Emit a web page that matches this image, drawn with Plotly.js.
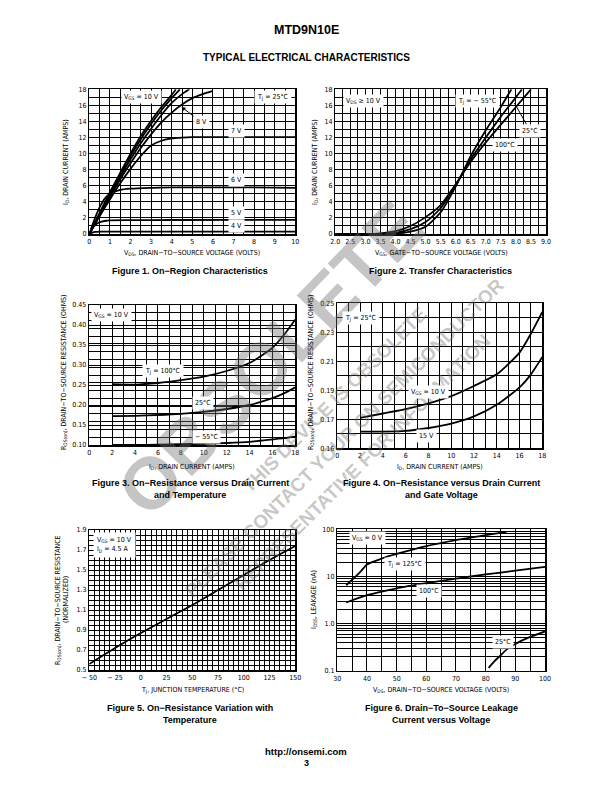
<!DOCTYPE html>
<html><head><meta charset="utf-8">
<script src="https://cdn.plot.ly/plotly-3.0.1.min.js"></script>
<style>html,body{margin:0;padding:0;background:#fff}#chart{width:612px;height:792px}</style>
</head><body><div id="chart"></div>
<script>
// ---------- Figure 1: On-Region Characteristics (VDS vs ID) ----------
const f1_vgs10_x = [0,0.5,1,1.5,2,2.5,3,3.5,4,4.2];
const f1_vgs10_y = [0,2.6,5.2,7.6,10,12.2,14.1,15.8,17.3,18];
const f1_vgs9_x  = [0,0.5,1,1.5,2,2.5,3,3.5,4,4.4];
const f1_vgs9_y  = [0,2.5,5.0,7.4,9.7,11.8,13.7,15.4,16.9,18];
const f1_vgsC_x  = [0,0.5,1,1.5,2,2.5,3,3.5,4,4.5,4.85];
const f1_vgsC_y  = [0,2.4,4.8,7.1,9.3,11.3,13.1,14.8,16.3,17.4,18];
const f1_vgs8_x  = [0,0.5,1,1.5,2,2.5,3,3.5,4,4.5,5,5.5,6];
const f1_vgs8_y  = [0,2.3,4.6,6.8,8.8,10.7,12.4,13.9,15.1,16.1,16.9,17.4,17.8];
const f1_vgs7_x  = [0,0.5,1,1.5,2,2.5,3,3.5,4,4.5,5,6,8,10];
const f1_vgs7_y  = [0,2.2,4.3,6.3,8.1,9.7,11.0,11.6,11.9,12.0,12.05,12.05,12.05,12.05];
const f1_vgs6_x  = [0,0.25,0.5,0.75,1,1.5,2,3,4,6,8,10];
const f1_vgs6_y  = [0,1.8,3.3,4.4,5.0,5.5,5.65,5.75,5.8,5.8,5.8,5.75];
const f1_vgs5_x  = [0,0.2,0.4,0.6,0.8,1,2,4,10];
const f1_vgs5_y  = [0,0.9,1.35,1.55,1.65,1.7,1.72,1.74,1.75];
const f1_vgs4_x  = [0,0.15,0.3,0.5,1,10];
const f1_vgs4_y  = [0,0.18,0.26,0.3,0.3,0.3];
const f1_xticks = [0,1,2,3,4,5,6,7,8,9,10];
const f1_yticks = [0,2,4,6,8,10,12,14,16,18];

// ---------- Figure 2: Transfer Characteristics (VGS vs ID) ----------
const f2_m55_x = [2,3.5,4.0,4.5,5.0,5.5,6.0,6.5,7.0,7.5,7.85];
const f2_m55_y = [0,0,0.05,0.3,0.9,2.7,5.9,9.7,12.9,15.8,18];
const f2_25_x  = [2,3.5,4.0,4.5,5.0,5.5,6.0,6.5,7.0,7.5,8.0,8.2];
const f2_25_y  = [0,0.02,0.15,0.6,1.5,3.2,6.1,9.3,12.0,14.6,17.0,18];
const f2_100_x = [2,3.3,4.0,4.5,5.0,5.5,6.0,6.5,7.0,7.5,8.0,8.5];
const f2_100_y = [0,0.02,0.35,1.0,2.1,3.6,6.2,9.0,11.4,13.6,15.8,18];
const f2_xticks = [2.0,2.5,3.0,3.5,4.0,4.5,5.0,5.5,6.0,6.5,7.0,7.5,8.0,8.5,9.0];
const f2_yticks = [0,2,4,6,8,10,12,14,16,18];

// ---------- Figure 3: RDS(on) vs ID and temperature ----------
const f3_id     = [2,4,6,8,10,12,14,16,17,18];
const f3_r100   = [0.252,0.251,0.255,0.262,0.271,0.285,0.305,0.343,0.375,0.414];
const f3_r25    = [0.172,0.173,0.175,0.178,0.183,0.190,0.200,0.217,0.229,0.244];
const f3_rm55   = [0.100,0.100,0.101,0.102,0.103,0.105,0.108,0.114,0.117,0.121];
const f3_xticks = [0,2,4,6,8,10,12,14,16,18];
const f3_yticks = [0.10,0.15,0.20,0.25,0.30,0.35,0.40,0.45];

// ---------- Figure 4: RDS(on) vs ID and gate voltage ----------
const f4_id     = [2,4,6,8,10,12,14,16,17,18];
const f4_r10    = [0.171,0.174,0.177,0.181,0.186,0.193,0.201,0.216,0.229,0.244];
const f4_r15    = [0.1615,0.1615,0.162,0.164,0.167,0.172,0.180,0.192,0.201,0.213];
const f4_xticks = [0,2,4,6,8,10,12,14,16,18];
const f4_yticks = [0.15,0.17,0.19,0.21,0.23,0.25];
const f4_ylabels = ['0.16','0.17','0.19','0.21','0.23','0.25'];

// ---------- Figure 5: Normalized RDS(on) vs TJ ----------
const f5_tj   = [-50,-25,0,25,50,75,100,125,150];
const f5_rn   = [0.56,0.72,0.87,1.01,1.15,1.30,1.45,1.60,1.74];
const f5_xticks  = [-50,-25,0,25,50,75,100,125,150];
const f5_xlabels = ['\u2212 50','\u2212 25','0','25','50','75','100','125','150'];
const f5_yticks  = [0.5,0.7,0.9,1.1,1.3,1.5,1.7,1.9];

// ---------- Figure 6: IDSS leakage vs VDS ----------
const f6_125_x = [33,35,38,40,45,50,60,70,80,87];
const f6_125_y = [6.5,8.5,13,18,24,30,44,59,75,88];
const f6_100_x = [33,40,50,60,70,80,90,100];
const f6_100_y = [2.8,4.0,5.6,7.2,9.0,11,13.3,16];
const f6_25_x  = [81,83,85,87,90,95,100];
const f6_25_y  = [0.115,0.16,0.21,0.28,0.37,0.52,0.68];
const f6_xticks = [30,40,50,60,70,80,90,100];
const f6_decades = [0.1,1.0,10,100];
const f6_decadeLabels = ['0.1','1.0','10','100'];

// ---------- helpers ----------
const W = 612, H = 792;
const NARROW = '"Liberation Sans Narrow","Arial Narrow","DejaVu Sans Condensed","Liberation Sans",sans-serif';
const SANS = '"Liberation Sans",Arial,Helvetica,sans-serif';
const px = v => v / W;
const py = v => 1 - v / H;
const xd = (a, b) => [a / W, b / W];
const yd = (top, bot) => [1 - bot / H, 1 - top / H];

function curve(x, y, n) {
  return {x: x, y: y, xaxis: 'x' + (n > 1 ? n : ''), yaxis: 'y' + (n > 1 ? n : ''),
    type: 'scatter', mode: 'lines', hoverinfo: 'skip', showlegend: false,
    line: {color: '#000', width: 1.8, shape: 'spline', smoothing: 0.6}};
}

const traces = [
  curve(f1_vgs10_x, f1_vgs10_y, 1), curve(f1_vgs9_x, f1_vgs9_y, 1), curve(f1_vgsC_x, f1_vgsC_y, 1),
  curve(f1_vgs8_x, f1_vgs8_y, 1), curve(f1_vgs7_x, f1_vgs7_y, 1), curve(f1_vgs6_x, f1_vgs6_y, 1),
  curve(f1_vgs5_x, f1_vgs5_y, 1), curve(f1_vgs4_x, f1_vgs4_y, 1),
  curve(f2_m55_x, f2_m55_y, 2), curve(f2_25_x, f2_25_y, 2), curve(f2_100_x, f2_100_y, 2),
  curve(f3_id, f3_r100, 3), curve(f3_id, f3_r25, 3), curve(f3_id, f3_rm55, 3),
  curve(f4_id, f4_r10, 4), curve(f4_id, f4_r15, 4),
  curve(f5_tj, f5_rn, 5),
  curve(f6_125_x, f6_125_y, 6), curve(f6_100_x, f6_100_y, 6), curve(f6_25_x, f6_25_y, 6)
];

function axis(o) {
  const base = {showline: true, linecolor: '#000', linewidth: 1.5, mirror: true,
    showgrid: true, gridcolor: '#000', gridwidth: 1, zeroline: false, ticks: '',
    tickfont: {family: NARROW, size: 7, color: '#000'}, fixedrange: true, automargin: false};
  return Object.assign(base, o);
}
function minor(dtick, tick0) {
  return {tick0: tick0, dtick: dtick, showgrid: true, gridcolor: '#000', gridwidth: 1, ticks: ''};
}

// log grid for fig 6
const f6_gridVals = [], f6_gridText = [];
f6_decades.forEach((d, i) => {
  if (i === f6_decades.length - 1) { f6_gridVals.push(d); f6_gridText.push(f6_decadeLabels[i]); return; }
  for (let k = 1; k <= 9; k++) { f6_gridVals.push(d * k); f6_gridText.push(k === 1 ? f6_decadeLabels[i] : ''); }
});

const layout = {
  width: W, height: H, margin: {l: 0, r: 0, t: 0, b: 0},
  paper_bgcolor: '#fff', plot_bgcolor: '#fff', showlegend: false,
  font: {family: NARROW, color: '#000', size: 7},
  xaxis:  axis({domain: xd(89.3, 295.3), range: [0, 10], anchor: 'y', tickvals: f1_xticks, minor: minor(0.5, 0)}),
  yaxis:  axis({domain: yd(89.3, 234), range: [0, 18], anchor: 'x', tickvals: f1_yticks, minor: minor(1, 0)}),
  xaxis2: axis({domain: xd(335.3, 546), range: [2, 9], anchor: 'y2', tickvals: f2_xticks, tickformat: '.1f', minor: minor(0.25, 2)}),
  yaxis2: axis({domain: yd(89.3, 234), range: [0, 18], anchor: 'x2', tickvals: f2_yticks, minor: minor(1, 0)}),
  xaxis3: axis({domain: xd(89.3, 295.3), range: [0, 18], anchor: 'y3', tickvals: f3_xticks, minor: minor(1, 0)}),
  yaxis3: axis({domain: yd(305, 445), range: [0.10, 0.45], anchor: 'x3', tickvals: f3_yticks, tickformat: '.2f', minor: minor(0.35 / 18, 0.10)}),
  xaxis4: axis({domain: xd(337.3, 542.3), range: [0, 18], anchor: 'y4', tickvals: f4_xticks, minor: minor(1, 0)}),
  yaxis4: axis({domain: yd(303.3, 448.3), range: [0.15, 0.25], anchor: 'x4', tickvals: f4_yticks, ticktext: f4_ylabels, minor: minor(0.01, 0.15)}),
  xaxis5: axis({domain: xd(89.3, 295.3), range: [-50, 150], anchor: 'y5', tickvals: f5_xticks, ticktext: f5_xlabels, minor: minor(5, -50)}),
  yaxis5: axis({domain: yd(530, 670), range: [0.5, 1.9], anchor: 'x5', tickvals: f5_yticks, tickformat: '.1f', minor: minor(0.05, 0.5)}),
  xaxis6: axis({domain: xd(337.3, 545), range: [30, 100], anchor: 'y6', tickvals: f6_xticks, minor: minor(5, 30)}),
  yaxis6: axis({domain: yd(529.3, 670.7), type: 'log', range: [-1, 2], anchor: 'x6', tickvals: f6_gridVals, ticktext: f6_gridText}),
  annotations: []
};

const A = layout.annotations;
// --- watermark (drawn first, below the label boxes) ---
const WM = 'rgba(110,110,110,0.40)';
A.push({xref: 'paper', yref: 'paper', x: px(270), y: py(358), text: '<b>OBSOLETE</b>', showarrow: false,
  textangle: -46, font: {family: SANS, size: 73, color: WM}});
A.push({xref: 'paper', yref: 'paper', x: px(334), y: py(400), text: '<b>THIS DEVICE IS OBSOLETE</b>', showarrow: false,
  textangle: -45, font: {family: SANS, size: 19, color: WM}});
A.push({xref: 'paper', yref: 'paper', x: px(345), y: py(438), text: '<b>PLEASE CONTACT YOUR ON SEMICONDUCTOR</b>', showarrow: false,
  textangle: -45, font: {family: SANS, size: 19, color: WM}});
A.push({xref: 'paper', yref: 'paper', x: px(362), y: py(462), text: '<b>REPRESENTATIVE FOR INFORMATION</b>', showarrow: false,
  textangle: -45, font: {family: SANS, size: 19, color: WM}});

// --- page text ---
function ptext(x, y, t, size, bold, angle, fam) {
  A.push({xref: 'paper', yref: 'paper', x: px(x), y: py(y), text: bold ? '<b>' + t + '</b>' : t, showarrow: false,
    textangle: angle || 0, font: {family: fam || SANS, size: size, color: '#000'}, xanchor: 'center', yanchor: 'middle'});
}
ptext(306, 30, 'MTD9N10E', 12.5, true);
ptext(306, 57, 'TYPICAL ELECTRICAL CHARACTERISTICS', 10, true);
ptext(306, 751, 'http://onsemi.com', 9.5, true);
ptext(306, 763, '3', 9, true);

// captions
const CAP = 9;
ptext(190, 271, 'Figure 1. On\u2212Region Characteristics', CAP, true);
ptext(440, 271, 'Figure 2. Transfer Characteristics', CAP, true);
ptext(190, 483, 'Figure 3. On\u2212Resistance versus Drain Current', CAP, true);
ptext(190, 495, 'and Temperature', CAP, true);
ptext(441, 483, 'Figure 4. On\u2212Resistance versus Drain Current', CAP, true);
ptext(441, 495, 'and Gate Voltage', CAP, true);
ptext(190, 708, 'Figure 5. On\u2212Resistance Variation with', CAP, true);
ptext(190, 720, 'Temperature', CAP, true);
ptext(441, 708, 'Figure 6. Drain\u2212To\u2212Source Leakage', CAP, true);
ptext(441, 720, 'Current versus Voltage', CAP, true);

// axis titles
ptext(192, 253, 'V<sub>DS</sub>, DRAIN\u2212TO\u2212SOURCE VOLTAGE (VOLTS)', 7, false, 0, NARROW);
ptext(441, 253, 'V<sub>GS</sub>, GATE\u2212TO\u2212SOURCE VOLTAGE (VOLTS)', 7, false, 0, NARROW);
ptext(192, 467, 'I<sub>D</sub>, DRAIN CURRENT (AMPS)', 7, false, 0, NARROW);
ptext(440, 467, 'I<sub>D</sub>, DRAIN CURRENT (AMPS)', 7, false, 0, NARROW);
ptext(192, 690, 'T<sub>J</sub>, JUNCTION TEMPERATURE (\u00B0C)', 7, false, 0, NARROW);
ptext(441, 690, 'V<sub>DS</sub>, DRAIN\u2212TO\u2212SOURCE VOLTAGE (VOLTS)', 7, false, 0, NARROW);
ptext(66, 162, 'I<sub>D</sub>, DRAIN CURRENT (AMPS)', 7, false, -90, NARROW);
ptext(315, 162, 'I<sub>D</sub>, DRAIN CURRENT (AMPS)', 7, false, -90, NARROW);
ptext(64, 372, 'R<sub>DS(on)</sub>, DRAIN\u2212TO\u2212SOURCE RESISTANCE (OHMS)', 7, false, -90, NARROW);
ptext(311, 372, 'R<sub>DS(on)</sub>, DRAIN\u2212TO\u2212SOURCE RESISTANCE (OHMS)', 7, false, -90, NARROW);
ptext(58, 600, 'R<sub>DS(on)</sub>, DRAIN\u2212TO\u2212SOURCE RESISTANCE', 7, false, -90, NARROW);
ptext(66, 600, '(NORMALIZED)', 7, false, -90, NARROW);
ptext(314, 600, 'I<sub>DSS</sub>, LEAKAGE (nA)', 7, false, -90, NARROW);

// in-plot labels
function lab(n, x, y, t, extra) {
  const s = n > 1 ? n : '';
  A.push(Object.assign({xref: 'x' + s, yref: 'y' + s, x: x, y: y, text: t, showarrow: false,
    bgcolor: '#fff', borderpad: 2, font: {family: NARROW, size: 7, color: '#000'}}, extra || {}));
}
lab(1, 2.55, 17.1, 'V<sub>GS</sub> = 10 V');
lab(1, 8.9, 17.1, 'T<sub>J</sub> = 25\u00B0C');
lab(1, 4.48, 15.8, '8 V', {showarrow: true, axref: 'x', ayref: 'y', ax: 5.45, ay: 13.9, arrowhead: 2, arrowsize: 0.8, arrowwidth: 1, arrowcolor: '#000'});
lab(1, 7.15, 12.85, '7 V');
lab(1, 7.15, 6.7, '6 V');
lab(1, 7.15, 2.6, '5 V');
lab(1, 7.15, 0.95, '4 V');

lab(2, 2.94, 16.5, 'V<sub>DS</sub> \u2265 10 V');
lab(2, 6.72, 16.5, 'T<sub>J</sub> = \u2212 55\u00B0C');
lab(2, 7.95, 16.3, '25\u00B0C', {showarrow: true, axref: 'x2', ayref: 'y2', ax: 8.47, ay: 12.85, arrowhead: 0, arrowwidth: 1, arrowcolor: '#000'});
lab(2, 7.64, 11.07, '100\u00B0C');

lab(3, 1.96, 0.425, 'V<sub>GS</sub> = 10 V');
lab(3, 6.47, 0.286, 'T<sub>J</sub> = 100\u00B0C');
lab(3, 9.97, 0.204, '25\u00B0C');
lab(3, 10.26, 0.121, '\u2212 55\u00B0C');

lab(4, 2.07, 0.2397, 'T<sub>J</sub> = 25\u00B0C');
lab(4, 8.0, 0.189, 'V<sub>GS</sub> = 10 V');
lab(4, 7.85, 0.1587, '15 V');

lab(5, -46, 1.755, 'V<sub>GS</sub> = 10 V<br>I<sub>D</sub> = 4.5 A', {xanchor: 'left', align: 'left', borderpad: 3});

lab(6, 40.2, Math.log10(64.7), 'V<sub>GS</sub> = 0 V');
lab(6, 52.8, Math.log10(18.2), 'T<sub>J</sub> = 125\u00B0C');
lab(6, 60.9, Math.log10(4.9), '100\u00B0C');
lab(6, 86, Math.log10(0.41), '25\u00B0C');

Plotly.newPlot('chart', traces, layout, {staticPlot: true, displayModeBar: false});
</script>
</body></html>
